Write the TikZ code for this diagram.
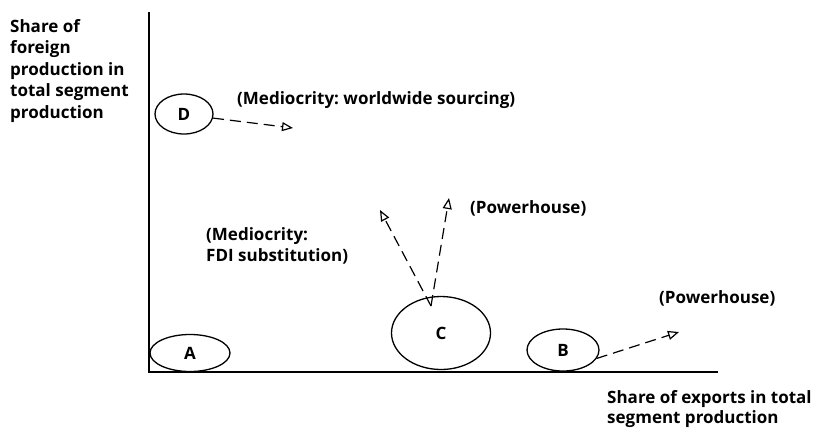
\documentclass[tikz,border=0pt]{standalone}
\usepackage{fontspec}
\setmainfont{Open Sans}[BoldFont={Open Sans Bold}]
\usetikzlibrary{positioning}
\usetikzlibrary{arrows.meta}
\usetikzlibrary{shapes}
\frenchspacing
\tikzset{
        textnode/.style={align=left,inner sep=0pt,font=\fontsize{17}{21.5}\selectfont\bfseries},
        % Segment ellipses
        node_segment/.style={textnode, ellipse, draw=black, line width=1.3pt, align=center},
        % Dashed moves
        move_arrow/.style={line width=1.2pt, dash pattern=on 11pt off 6pt, -{Triangle[open,length=11pt,width=9pt]}},
        % Labels of the moves
        node_label/.style={textnode, anchor=west},
        % Axes
        axis_line/.style={line width=1.6pt}
}
\begin{document}
\begin{tikzpicture}[x=1pt,y=-1pt]
            \useasboundingbox (0,0) rectangle (819,429);
            % axes
            \coordinate (origin) at (149,372);
            \coordinate (ytop) at (149,12);
            \coordinate (xend) at (718,372);
            \draw[axis_line] (ytop) -- (origin) -- (xend);
            \node[textnode, anchor=north west] (ylabel) at (10,19) {Share of\\foreign\\production in\\total segment\\production};
            \node[textnode, anchor=north west, font=\fontsize{17}{20.5}\selectfont\bfseries] (xlabel) at (607,390) {Share of exports in total\\segment production};
            % segments
            \node[node_segment, minimum width=80pt, minimum height=37pt] (a) at (190,353) {A};
            \node[node_segment, minimum width=58pt, minimum height=40pt] (d) at (184,114) {D};
            \node[node_segment, minimum width=99pt, minimum height=73pt] (c) at (441,333) {C};
            \node[node_segment, minimum width=72pt, minimum height=42pt] (b) at (563,350) {B};
            % ends of the moves
            \coordinate (c_foot) at (431,306);
            \coordinate (d_end) at (293,128);
            \coordinate (c_left) at (380,210);
            \coordinate (c_up) at (449,198);
            \coordinate (b_end) at (679,332);
            \draw[move_arrow] (d.-8) -- (d_end);
            \draw[move_arrow] (c_foot) -- (c_left);
            \draw[move_arrow] (c_foot) -- (c_up);
            \draw[move_arrow] (b.-14) -- (b_end);
            % labels
            \node[node_label] (l_world) at (237,100) {(Mediocrity: worldwide sourcing)};
            \node[node_label] (l_power1) at (470,208) {(Powerhouse)};
            \node[textnode, anchor=north west] (l_fdi) at (206,227) {(Mediocrity:\\FDI substitution)};
            \node[node_label] (l_power2) at (659,298) {(Powerhouse)};
\end{tikzpicture}
\end{document}
